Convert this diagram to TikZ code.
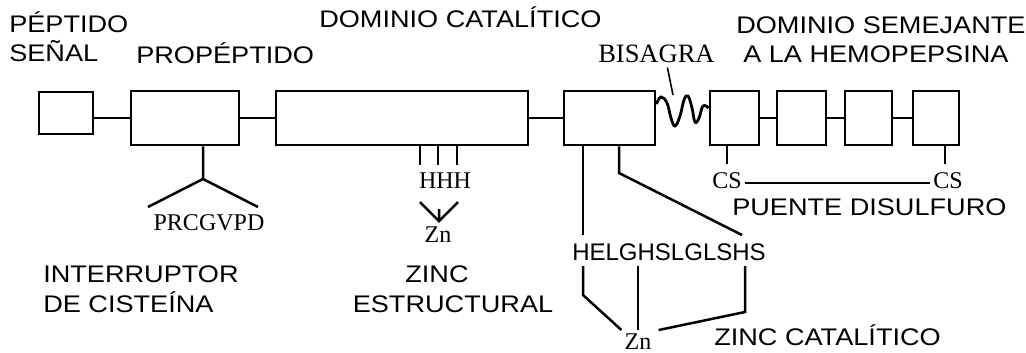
\documentclass[tikz,border=0pt]{standalone}
\usepackage{fontspec}
\setmainfont{Liberation Serif}
\setsansfont{Liberation Sans}
\newfontfamily\labfont{Liberation Sans}[FakeStretch=1.13]
\usetikzlibrary{calc}

\begin{document}
\begin{tikzpicture}[x=1pt,y=-1pt,line width=2.5pt,
  dom/.style={draw,line width=2.9pt,minimum height=54pt,inner sep=0},
  lab/.style={font=\labfont\fontsize{24}{29.5}\selectfont,inner sep=0,align=left},
  seq/.style={font=\rmfamily\fontsize{24}{29}\selectfont,inner sep=2pt}]
\useasboundingbox (0,0) rectangle (1026,353);
\node[dom,minimum width=54pt,minimum height=42pt] (sig) at (66,113) {};
\node[dom,minimum width=108pt] (pro) at (185,118) {};
\node[dom,minimum width=252pt] (cat) at (402,118) {};
\node[dom,minimum width=91pt] (zcat) at (609.5,118) {};
\node[dom,minimum width=49pt] (hp1) at (734.5,118) {};
\node[dom,minimum width=49pt] (hp2) at (801.5,118) {};
\node[dom,minimum width=47pt] (hp3) at (868.5,118) {};
\node[dom,minimum width=46pt] (hp4) at (936,118) {};
\draw (pro.west) -- (pro.west -| sig.east);
\foreach \a/\b in {pro/cat,cat/zcat,hp1/hp2,hp2/hp3,hp3/hp4}
  \draw (\a) -- (\b);
\draw[line width=2.8pt] plot[smooth,tension=0.7] coordinates {(zcat.east |- 0,104) (661,97) (667,103) (671,118)
  (675,126) (680,116) (684,100) (688,96) (692,108) (695,122) (699,118) (703,106) (hp1.west |- 0,108)};

\node[lab,anchor=base west] (pep) at (8,62) {PÉPTIDO\\SEÑAL};
\node[lab,anchor=base west] (prop) at (135,64) {PROPÉPTIDO};
\node[lab,anchor=base west] (catl) at (318,28) {DOMINIO CATALÍTICO};
\node[seq,font=\rmfamily\fontsize{26.5}{29}\selectfont,anchor=base west,inner sep=0] (bis) at (597,63) {BISAGRA};
\coordinate (hg) at (673,95);
\draw[line width=1.6pt] ([xshift=11pt,yshift=-3pt]bis.south) -- (hg);
\node[lab,anchor=base west] (heml) at (735,63) {DOMINIO SEMEJANTE\\\hspace*{7pt}A LA HEMOPEPSINA};

\coordinate (pv) at (203,179);
\coordinate (pl) at (148,207);
\coordinate (pr) at (258,207);
\draw (pro.south -| pv) -- (pv) -- (pl) (pv) -- (pr);
\node[seq,anchor=base] (prc) at (209,230) {PRCGVPD};
\node[lab,anchor=base west] (intl) at (42,312) {INTERRUPTOR\\DE CISTEÍNA};

\foreach \x in {420,438,457}
  \draw (cat.south -| \x,0) -- (\x,165);
\node[seq,anchor=base] (hhh) at (445,188) {HHH};
\node[seq,anchor=base] (zns) at (438,242) {Zn};
\coordinate (zt) at ($(zns.north)+(1,-2)$);
\draw ($(zt)+(-19,-19)$) -- (zt) -- ($(zt)+(19,-19)$) (zt) -- ++(0,-12);
\node[lab,anchor=base,align=center] (zest) at (453,312) {\hspace*{-32pt}ZINC\\ESTRUCTURAL};

\node[font=\sffamily\fontsize{24}{29}\selectfont,inner sep=0,anchor=base] (hel) at (669,260) {HELGHSLGLSHS};
\node[seq,anchor=base] (znc) at (638,349) {Zn};
\draw (zcat.south -| 583,0) -- (583,235);
\draw (zcat.south -| 619,0) -- (619,173) -- (742,235);
\draw (583,266) -- (583,295) -- (znc.north west);
\draw (638,266) -- (znc.north);
\draw (745,266) -- (745,312) -- ([xshift=4pt]znc.north east);
\node[lab,anchor=base west] (zcl) at (713,345) {ZINC CATALÍTICO};

\draw (hp1.south -| 727,0) -- ++(0,18);
\draw (hp4.south -| 945,0) -- ++(0,18);
\node[seq,anchor=base] (csl) at (727,188) {CS};
\node[seq,anchor=base] (csr) at (948,188) {CS};
\draw ([yshift=5pt]csl.base east) -- ([yshift=5pt]csr.base west);
\node[lab,anchor=base west] (pds) at (731,215) {PUENTE DISULFURO};
\end{tikzpicture}
\end{document}
